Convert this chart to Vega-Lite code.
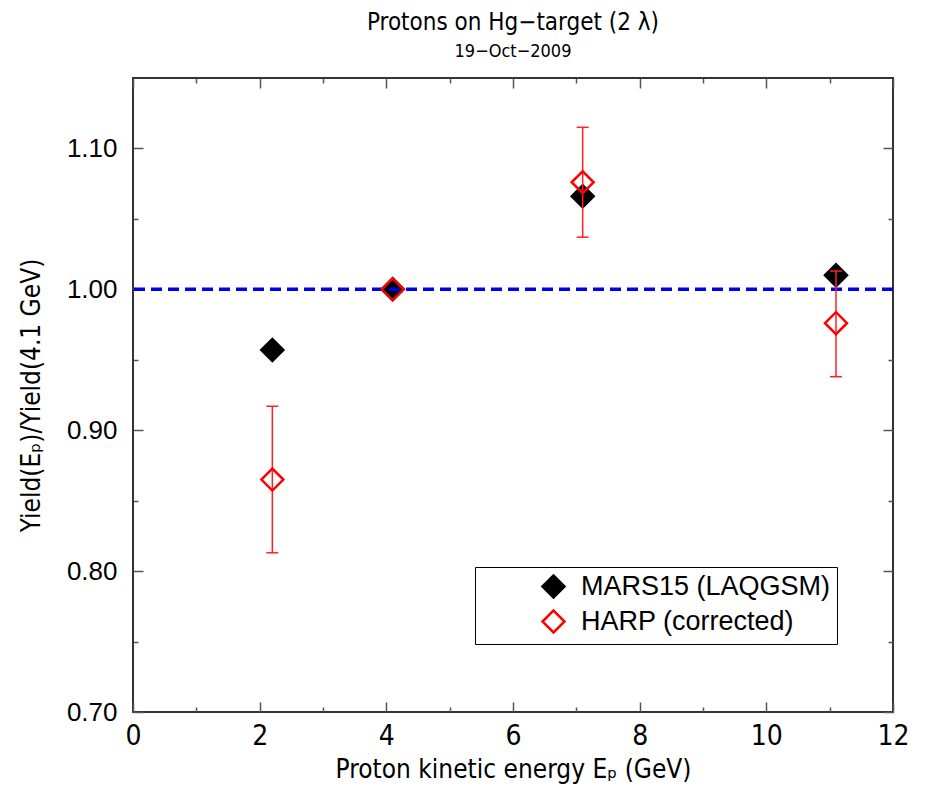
{
  "$schema": "https://vega.github.io/schema/vega-lite/v6.json",
  "width": 760,
  "height": 634,
  "autosize": {"type": "none"},
  "padding": {"left": 133, "top": 78, "right": 33, "bottom": 78},
  "background": "white",
  "config": {
    "view": {"stroke": "#333333", "strokeWidth": 2},
    "axis": {"grid": false, "domain": false, "tickColor": "#555555", "tickWidth": 1.5, "labelColor": "black", "titleColor": "black", "titleFontWeight": "normal", "labelFlush": false, "labelOverlap": false}
  },
  "title": {
    "text": "Protons on Hg−target (2 λ)",
    "subtitle": "19−Oct−2009",
    "font": "DejaVu Sans Condensed, sans-serif",
    "fontSize": 24,
    "fontWeight": "normal",
    "color": "black",
    "subtitleFont": "DejaVu Sans Condensed, sans-serif",
    "subtitleFontSize": 18,
    "subtitleColor": "black",
    "subtitlePadding": 8,
    "offset": 16
  },
  "datasets": {
    "points": [
      {"series": "MARS15 (LAQGSM)", "energy": 2.2, "ratio": 0.957},
      {"series": "MARS15 (LAQGSM)", "energy": 4.1, "ratio": 1.0},
      {"series": "MARS15 (LAQGSM)", "energy": 7.1, "ratio": 1.066},
      {"series": "MARS15 (LAQGSM)", "energy": 11.1, "ratio": 1.01},
      {"series": "HARP (corrected)", "energy": 2.2, "ratio": 0.865},
      {"series": "HARP (corrected)", "energy": 4.1, "ratio": 1.0},
      {"series": "HARP (corrected)", "energy": 7.1, "ratio": 1.076},
      {"series": "HARP (corrected)", "energy": 11.1, "ratio": 0.976}
    ],
    "harp": [
      {"energy": 2.2, "lo": 0.813, "hi": 0.917},
      {"energy": 7.1, "lo": 1.037, "hi": 1.115},
      {"energy": 11.1, "lo": 0.938, "hi": 1.013}
    ],
    "ref": [{"level": 1.0}]
  },
  "layer": [
    {
      "data": {"name": "points"},
      "transform": [{"filter": "datum.series === 'MARS15 (LAQGSM)'"}],
      "mark": {"type": "point", "shape": "diamond", "size": 484, "strokeWidth": 2.5, "opacity": 1},
      "encoding": {
        "x": {"field": "energy", "type": "quantitative",
          "scale": {"domain": [0, 12], "nice": false, "zero": false},
          "axis": {"orient": "bottom", "values": [0, 2, 4, 6, 8, 10, 12], "tickSize": -10, "labelPadding": 20,
            "labelFont": "DejaVu Sans Condensed, sans-serif", "labelFontSize": 28,
            "title": "Proton kinetic energy Eₚ (GeV)", "titleFont": "DejaVu Sans Condensed, sans-serif",
            "titleFontSize": 26, "titlePadding": 6}},
        "y": {"field": "ratio", "type": "quantitative",
          "scale": {"domain": [0.7, 1.15], "nice": false, "zero": false},
          "axis": {"orient": "left", "values": [0.7, 0.8, 0.9, 1.0, 1.1], "format": ".2f", "tickSize": -10, "labelPadding": 26,
            "labelFont": "Liberation Sans, Arial, sans-serif", "labelFontSize": 26,
            "title": "Yield(Eₚ)/Yield(4.1 GeV)", "titleFont": "DejaVu Sans Condensed, sans-serif",
            "titleFontSize": 26, "titlePadding": 22}},
        "fill": {"field": "series", "type": "nominal",
          "scale": {"domain": ["MARS15 (LAQGSM)", "HARP (corrected)"], "range": ["black", "transparent"]},
          "legend": {"orient": "none", "legendX": 342, "legendY": 489, "title": null, "symbolType": "diamond", "symbolSize": 484,
            "symbolStrokeWidth": 2.5, "symbolOffset": 59, "labelFont": "Liberation Sans, Arial, sans-serif", "labelFontSize": 27,
            "labelColor": "black", "labelLimit": 0, "labelOffset": 14, "rowPadding": 2, "padding": 6, "strokeColor": "black", "fillColor": "white"}},
        "stroke": {"field": "series", "type": "nominal",
          "scale": {"domain": ["MARS15 (LAQGSM)", "HARP (corrected)"], "range": ["black", "red"]},
          "legend": {"orient": "none", "legendX": 342, "legendY": 489, "title": null, "symbolType": "diamond", "symbolSize": 484,
            "symbolStrokeWidth": 2.5, "symbolOffset": 59, "labelFont": "Liberation Sans, Arial, sans-serif", "labelFontSize": 27,
            "labelColor": "black", "labelLimit": 0, "labelOffset": 14, "rowPadding": 2, "padding": 6, "strokeColor": "black", "fillColor": "white"}}
      }
    },
    {
      "data": {"name": "ref"},
      "mark": {"type": "rule", "color": "#0000ee", "strokeWidth": 3.5, "strokeDash": [11, 6]},
      "encoding": {
        "y": {"field": "level", "type": "quantitative",
          "axis": {"orient": "right", "values": [0.7, 0.8, 0.9, 1.0, 1.1], "tickSize": -10, "labels": false, "title": null}}
      }
    },
    {
      "data": {"name": "harp"},
      "mark": {"type": "rule", "color": "#ff2020", "strokeWidth": 1.5},
      "encoding": {
        "x": {"field": "energy", "type": "quantitative",
          "axis": {"orient": "bottom", "values": [1, 3, 5, 7, 9, 11], "tickSize": -5, "labels": false, "title": null}},
        "y": {"field": "lo", "type": "quantitative",
          "axis": {"orient": "left", "values": [0.75, 0.85, 0.95, 1.05], "tickSize": -5, "labels": false, "title": null}},
        "y2": {"field": "hi"}
      }
    },
    {
      "data": {"name": "harp"},
      "mark": {"type": "tick", "orient": "horizontal", "color": "#ff2020", "size": 12, "thickness": 1.5, "opacity": 1},
      "encoding": {
        "x": {"field": "energy", "type": "quantitative",
          "axis": {"orient": "top", "values": [0, 2, 4, 6, 8, 10, 12], "tickSize": -10, "labels": false, "title": null}},
        "y": {"field": "lo", "type": "quantitative",
          "axis": {"orient": "right", "values": [0.75, 0.85, 0.95, 1.05], "tickSize": -5, "labels": false, "title": null}}
      }
    },
    {
      "data": {"name": "harp"},
      "mark": {"type": "tick", "orient": "horizontal", "color": "#ff2020", "size": 12, "thickness": 1.5, "opacity": 1},
      "encoding": {
        "x": {"field": "energy", "type": "quantitative",
          "axis": {"orient": "top", "values": [1, 3, 5, 7, 9, 11], "tickSize": -5, "labels": false, "title": null}},
        "y": {"field": "hi", "type": "quantitative", "axis": null}
      }
    },
    {
      "data": {"name": "points"},
      "transform": [{"filter": "datum.series === 'HARP (corrected)'"}],
      "mark": {"type": "point", "shape": "diamond", "size": 484, "strokeWidth": 2.5, "opacity": 1},
      "encoding": {
        "x": {"field": "energy", "type": "quantitative", "axis": null},
        "y": {"field": "ratio", "type": "quantitative", "axis": null},
        "fill": {"field": "series", "type": "nominal"},
        "stroke": {"field": "series", "type": "nominal"}
      }
    }
  ],
  "resolve": {"axis": {"x": "independent", "y": "independent"}}
}
